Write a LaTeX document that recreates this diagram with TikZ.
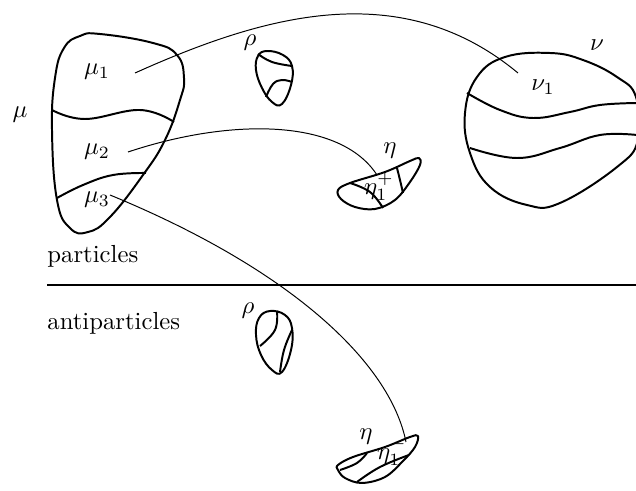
\documentclass[tikz,border=0pt]{standalone}
\usetikzlibrary{calc}
\begin{document}
\begin{tikzpicture}[x=0.405pt,y=-0.405pt,
  blob/.style={line width=0.8pt, line join=round},
  cut/.style={line width=0.8pt},
  link/.style={line width=0.4pt},
  lbl/.style={inner sep=0pt}]
\useasboundingbox (0,0) rectangle (636,491);

% ---- mu region with its three parts
\draw[blob] plot[smooth cycle, tension=0.75] coordinates {
  (100,34) (153,43) (177,55) (184,78) (180,100) (165,140) (143,175)
  (110,217) (88,232) (70,228) (57,200) (52,130) (55,78) (64,48) (80,36)};
\draw[cut] plot[smooth, tension=0.7] coordinates {(52,110) (85,119) (140,110) (174,122)};
\draw[cut] plot[smooth, tension=0.7] coordinates {(57,198) (83,185) (113,175) (146,173)};
\node[lbl] (mu)  at (20,115) {$\mu$};
\node[lbl] (mu1) at (97,72)  {$\mu_1$};
\node[lbl] (mu2) at (97,152) {$\mu_2$};
\node[lbl] (mu3) at (97,200) {$\mu_3$};

% ---- nu region
\draw[blob] plot[smooth cycle, tension=0.7] coordinates {
  (550,53) (583,60) (617,77) (636,97) (638,140) (617,167) (560,203)
  (527,205) (490,187) (470,153) (465,113) (477,77) (505,57)};
\draw[cut] plot[smooth, tension=0.7] coordinates {(467,93) (500,110) (533,118) (570,112) (600,105) (637,103)};
\draw[cut] plot[smooth, tension=0.7] coordinates {(470,148) (517,158) (560,148) (600,135) (637,135)};
\node[lbl] (nu)  at (597,45) {$\nu$};
\node[lbl] (nu1) at (543,87) {$\nu_1$};

% ---- rho (particles)
\draw[blob] plot[smooth cycle, tension=0.7] coordinates {
  (267,51) (283,55) (292,66) (291,85) (282,104) (272,102) (262,88) (256,70) (258,56)};
\draw[cut] plot[smooth, tension=0.7] coordinates {(258,54) (272,62) (292,66)};
\draw[cut] plot[smooth, tension=0.7] coordinates {(266,97) (273,84) (282,80) (292,82)};
\node[lbl] (rho) at (250,43) {$\rho$};

% ---- eta (particles)
\draw[blob] plot[smooth cycle, tension=0.6] coordinates {
  (338,190) (350,183) (385,172) (410,161) (419,158) (420,165) (410,182)
  (395,200) (375,209) (355,207) (341,199)};
\draw[cut] plot[smooth, tension=0.7] coordinates {(350,183) (370,192) (383,208)};
\draw[cut] plot[smooth, tension=0.7] coordinates {(397,168) (400,180) (403,193)};
\node[lbl] (eta)  at (390,151) {$\eta$};
\node[lbl] (etap) at (379,187) {$\eta_1^+$};

% ---- separating line and captions
\coordinate (sepL) at (47,285);
\coordinate (sepR) at (636,285);
\draw[line width=0.8pt] (sepL) -- (sepR);
\node[lbl, anchor=west] (part) at (47,256) {particles};
\node[lbl, anchor=west] (anti) at (47,323) {antiparticles};

% ---- rho (antiparticles)
\draw[blob] plot[smooth cycle, tension=0.7] coordinates {
  (270,311) (285,315) (292,328) (291,350) (282,372) (272,370) (261,355) (256,335) (259,318)};
\draw[cut] plot[smooth, tension=0.7] coordinates {(277,311) (275,330) (260,346)};
\draw[cut] plot[smooth, tension=0.7] coordinates {(292,330) (284,350) (280,372)};
\node[lbl] (rhob) at (248,311) {$\rho$};

% ---- eta (antiparticles)
\draw[blob] plot[smooth cycle, tension=0.6] coordinates {
  (338,465) (353,457) (385,447) (410,437) (418,436) (415,447) (403,461)
  (385,477) (362,483) (345,478) (338,470)};
\draw[cut] plot[smooth, tension=0.7] coordinates {(367,453) (357,463) (340,470)};
\draw[cut] plot[smooth, tension=0.7] coordinates {(357,482) (380,467) (409,455)};
\node[lbl] (etab)  at (366,437) {$\eta$};
\node[lbl] (etam)  at (392,452) {$\eta_1^-$};

% ---- connectors between the parts
\coordinate (a1) at (135,73);
\coordinate (b1) at (518,73);
\draw[link] (a1) .. controls (262,16) and (400,-25) .. (b1);
\coordinate (a2) at (128,152);
\coordinate (b2) at (377,175);
\draw[link] (a2) .. controls (230,118) and (340,118) .. (b2);
\coordinate (a3) at (110,195);
\coordinate (b3) at (406,442);
\draw[link] (a3) .. controls (290,269) and (390,362) .. (b3);
\end{tikzpicture}
\end{document}
